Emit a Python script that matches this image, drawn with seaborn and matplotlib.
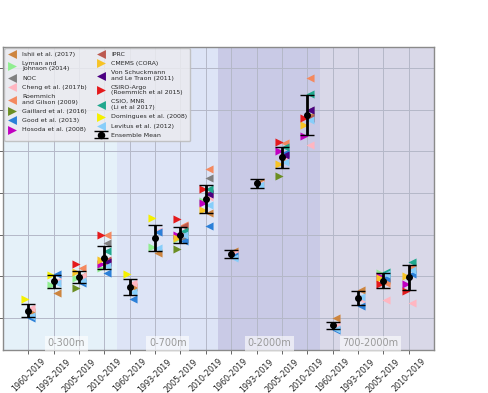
import numpy as np
import pandas as pd
import matplotlib
matplotlib.use("Agg")
import matplotlib.pyplot as plt
import seaborn as sns

nan = np.nan

# ---------------- data ----------------
periods = ["1960-2019", "1993-2019", "2005-2019", "2010-2019"]
layers = ["0-300m", "0-700m", "0-2000m", "700-2000m"]
tick_labels = periods * 4

ishii     = [0.23, 0.32, 0.40, 0.455, 0.35, 0.51, 0.60, 0.705, 0.52, 0.855, 0.96, 1.17, 0.20, 0.335, 0.385, 0.435]
lyman     = [nan, 0.36, 0.39, 0.44, nan, 0.54, 0.58, 0.76, nan, nan, nan, nan, nan, nan, 0.415, nan]
noc       = [nan, nan, nan, 0.56, nan, nan, 0.58, 0.87, nan, nan, nan, 1.20, nan, nan, nan, nan]
cheng     = [0.25, 0.38, 0.40, 0.47, 0.37, 0.62, 0.61, 0.78, 0.51, 0.845, 0.97, 1.03, 0.16, 0.29, 0.285, 0.27]
roemmich  = [nan, nan, 0.44, 0.60, nan, nan, 0.645, 0.915, nan, nan, 1.04, 1.35, nan, nan, 0.37, 0.445]
gaillard  = [nan, nan, 0.345, nan, nan, nan, 0.53, nan, nan, nan, 0.88, nan, nan, nan, nan, nan]
good      = [0.20, 0.41, 0.37, 0.415, 0.29, 0.615, 0.57, 0.64, 0.50, nan, 0.99, 1.16, 0.145, 0.26, 0.39, 0.41]
hosoda    = [nan, nan, nan, 0.46, nan, nan, 0.60, 0.75, nan, nan, 1.00, 1.073, nan, nan, 0.40, 0.365]
iprc      = [nan, nan, nan, 0.48, nan, nan, 0.64, 0.80, nan, nan, nan, 1.16, nan, nan, nan, nan]
cmems     = [nan, nan, 0.42, 0.48, nan, nan, 0.585, 0.72, nan, nan, 0.94, 1.125, nan, nan, 0.39, 0.40]
vonschuck = [nan, nan, nan, 0.47, nan, nan, nan, 0.795, nan, nan, 0.98, 1.20, nan, nan, nan, nan]
csiro     = [nan, nan, 0.46, 0.60, nan, nan, 0.675, 0.82, nan, nan, 1.045, 1.16, nan, nan, 0.365, 0.33]
csio      = [nan, nan, nan, 0.52, nan, nan, 0.62, 0.82, nan, nan, 1.02, 1.274, nan, nan, 0.42, 0.47]
domingues = [0.29, 0.405, nan, nan, 0.41, 0.68, nan, nan, nan, nan, nan, nan, nan, nan, nan, nan]
levitus   = [0.21, 0.37, 0.38, 0.45, 0.325, 0.535, 0.60, 0.74, 0.49, 0.84, 0.95, 1.15, 0.15, 0.30, 0.41, 0.43]

ens_mean = [0.235, 0.377, 0.397, 0.49, 0.35, 0.584, 0.598, 0.77, 0.507, 0.847, 0.972, 1.174, 0.166, 0.296, 0.38, 0.397]
ens_err  = [0.031, 0.031, 0.029, 0.055, 0.038, 0.063, 0.038, 0.067, 0.019, 0.022, 0.05, 0.096, 0.016, 0.032, 0.036, 0.06]

# name, values, marker, colour
datasets = [
    ("Ishii et al. (2017)", ishii, "<", "#cd853f"),
    ("Lyman and\nJohnson (2014)", lyman, ">", "#90ee90"),
    ("NOC", noc, "<", "#808080"),
    ("Cheng et al. (2017b)", cheng, "<", "#ffb6c1"),
    ("Roemmich\nand Gilson (2009)", roemmich, "<", "#f4895f"),
    ("Gaillard et al. (2016)", gaillard, ">", "#6b8e23"),
    ("Good et al. (2013)", good, "<", "#2b80d8"),
    ("Hosoda et al. (2008)", hosoda, ">", "#c000c0"),
    ("IPRC", iprc, "<", "#bc5a50"),
    ("CMEMS (CORA)", cmems, ">", "#f7c325"),
    ("Von Schuckmann\nand Le Traon (2011)", vonschuck, "<", "#4b0082"),
    ("CSIRO-Argo\n(Roemmich et al 2015)", csiro, ">", "#e41a1c"),
    ("CSIO, MNR\n(Li et al 2017)", csio, "<", "#20a88e"),
    ("Domingues et al. (2008)", domingues, ">", "#f5f000"),
    ("Levitus et al. (2012)", levitus, "<", "#87cefa"),
]

region_colors = ["#e5f1f9", "#dde4f6", "#c9cae6", "#d9d8e8"]

# ---------------- plot ----------------
sns.set_style("whitegrid")
plt.rcParams["font.family"] = ["DejaVu Sans"]

fig = plt.figure(figsize=(4.89, 3.93), dpi=100)
ax = fig.add_axes([3 / 489, 43 / 393, 431 / 489, 303 / 393])

pos = np.arange(len(tick_labels))
for i, col in enumerate(region_colors):
    ax.axvspan(4 * i - 0.5 if i > 0 else -1, 4 * i + 3.5 if i < 3 else 16,
               color=col, zorder=0, lw=0)

for name, vals, mk, col in datasets:
    off = -0.12 if mk == ">" else 0.12
    df = pd.DataFrame({"x": pos + off, "y": vals}).dropna()
    sns.scatterplot(data=df, x="x", y="y", marker=mk, color=col, s=34,
                    linewidth=0, ax=ax, label=name, zorder=3)

ax.errorbar(pos, ens_mean, yerr=ens_err, fmt="o", color="black", ms=4,
            elinewidth=2, capsize=5, capthick=1, ecolor="black",
            label="Ensemble Mean", zorder=4)

for i, lab in enumerate(layers):
    ax.text(4 * i + 1.5, 0.005, lab, transform=ax.get_xaxis_transform(),
            ha="center", va="bottom", fontsize=7, color="#9a9a9a",
            bbox=dict(facecolor="white", alpha=0.6, edgecolor="none", pad=2))

ax.set_xlim(-1, 16)
ax.set_ylim(0.047, 1.50)
ax.set_xticks(pos)
ax.set_xticklabels(tick_labels, rotation=45, ha="center", fontsize=5.8)
ax.set_yticks(np.arange(0.2, 1.41, 0.2))
ax.set_yticklabels([])
ax.set_xlabel("")
ax.set_ylabel("")
ax.grid(True, color="#b4b8c8", lw=0.7)
ax.tick_params(axis="both", length=3, width=0.7, color="#666666", pad=2,
               bottom=True, left=True)
for s in ax.spines.values():
    s.set_color("#8a8a8a")
    s.set_linewidth(1)

ax.legend(loc="upper left", ncol=2, fontsize=4.5, frameon=True,
          facecolor="#ebebef", edgecolor="#bbbbbb", framealpha=0.85,
          borderaxespad=0.2, labelspacing=0.62, handlelength=1.6,
          handletextpad=0.8, columnspacing=1.4, borderpad=0.5,
          markerscale=1.1)

fig.savefig("out.png", dpi=100)
